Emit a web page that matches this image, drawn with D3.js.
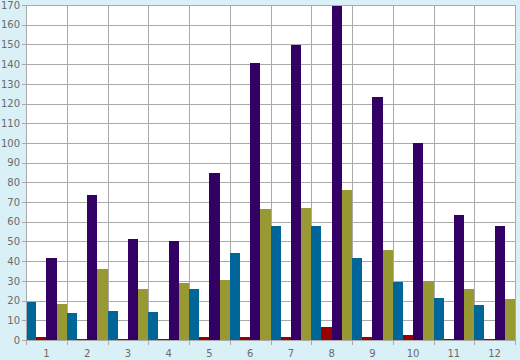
<!DOCTYPE html>
<html><head><meta charset="utf-8">
<script src="https://cdn.jsdelivr.net/npm/d3@7"></script>
<style>
html,body{margin:0;padding:0;background:#d9f0f7;}
svg{display:block;}
text{font-family:"DejaVu Sans",sans-serif;font-size:10px;fill:#6b6b6b;}
</style></head><body>
<svg id="c" width="520" height="360"></svg>
<script>
const categories = ["1","2","3","4","5","6","7","8","9","10","11","12"];
const seriesNames = ["blue","red","purple","olive"];
const seriesColors = ["#006699","#990000","#330066","#999933"];
const blueValues   = [19.3, 13.7, 14.7, 14.2, 25.9, 44.2, 57.9, 57.9, 41.6, 29.4, 21.3, 17.8];
const redValues    = [1.6, 0.6, 0.4, 0.4, 1.6, 1.6, 1.6, 6.6, 1.6, 2.6, 0.4, 0.4];
const purpleValues = [41.6, 73.6, 51.3, 50.3, 84.8, 140.6, 149.7, 169.5, 123.4, 100, 63.5, 57.9];
const oliveValues  = [18.3, 36.0, 25.9, 28.9, 30.4, 66.5, 67.0, 76.1, 45.7, 30.0, 25.9, 20.8];
const yTicks = d3.range(0, 171, 10);

const series = [blueValues, redValues, purpleValues, oliveValues];
const svg = d3.select("#c");
const m = {l:26, t:5, r:5, b:20};
const W = 520, H = 360;
const x0 = d3.scaleBand().domain(categories).range([m.l, W - m.r]).padding(0);
const x1 = d3.scaleBand().domain(d3.range(series.length)).range([0, x0.bandwidth()]).padding(0);
const y = d3.scaleLinear().domain([0,170]).range([H - m.b, m.t]);

// plot background
svg.append("rect").attr("x", m.l).attr("y", m.t)
  .attr("width", W - m.r - m.l).attr("height", H - m.b - m.t).attr("fill", "#fff");

const g = svg.append("g").attr("shape-rendering","crispEdges");
// horizontal grid
g.selectAll("line.h").data(yTicks).join("line")
  .attr("x1", m.l).attr("x2", W - m.r)
  .attr("y1", d => Math.round(y(d)) + 0.5).attr("y2", d => Math.round(y(d)) + 0.5)
  .attr("stroke", "#aaaaaa");
// vertical grid (category boundaries)
const bounds = categories.map(c => x0(c)).concat([W - m.r]);
g.selectAll("line.v").data(bounds).join("line")
  .attr("x1", d => Math.round(d) + 0.5).attr("x2", d => Math.round(d) + 0.5)
  .attr("y1", m.t).attr("y2", H - m.b + 5)
  .attr("stroke", "#aaaaaa");

// bars
const groups = svg.append("g").attr("shape-rendering","crispEdges")
  .selectAll("g").data(categories).join("g")
  .attr("transform", c => `translate(${x0(c)},0)`);
groups.selectAll("rect").data((c, i) => series.map((s, k) => ({k, v: s[i]}))).join("rect")
  .attr("x", d => x1(d.k)).attr("width", x1.bandwidth())
  .attr("y", d => y(d.v)).attr("height", d => y(0) - y(d.v))
  .attr("fill", d => seriesColors[d.k]);

// y axis
const ya = svg.append("g").attr("transform", `translate(${m.l},0)`)
  .call(d3.axisLeft(y).tickValues(yTicks).tickSize(4).tickPadding(2));
ya.select(".domain").attr("stroke", "#aaaaaa").attr("shape-rendering","crispEdges");
ya.selectAll(".tick line").attr("stroke", "#aaaaaa").attr("shape-rendering","crispEdges");
ya.selectAll("text").style("font-family","DejaVu Sans").style("font-size","10px").attr("fill","#6b6b6b");

// x labels
svg.append("g").selectAll("text").data(categories).join("text")
  .attr("x", c => x0(c) + x0.bandwidth()/2).attr("y", H - m.b + 17)
  .attr("text-anchor", "middle").text(c => c);
</script>
</body></html>
